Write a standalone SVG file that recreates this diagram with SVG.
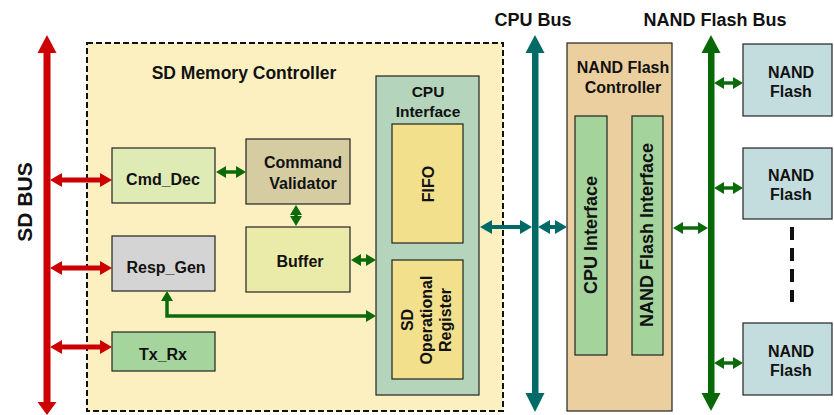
<svg xmlns="http://www.w3.org/2000/svg" width="834" height="415" viewBox="0 0 834 415">
<style>
text{font-family:"Liberation Sans",Arial,sans-serif;font-weight:bold;fill:#111;text-anchor:middle;dominant-baseline:central}
.box{stroke:#222;stroke-width:1.2}
.red{stroke:#CC0000;stroke-width:5;fill:none}
.grn{stroke:#0B6B0B;stroke-width:3.5;fill:none}
.teal{stroke:#006B66;stroke-width:4;fill:none}
.t16{font-size:16px}
</style>
<defs>
<marker id="hr" viewBox="0 0 12 14" refX="0" refY="7" markerWidth="12" markerHeight="14" markerUnits="userSpaceOnUse" orient="auto-start-reverse"><path d="M0,0 L12,7 L0,14 z" fill="#CC0000"/></marker>
<marker id="hg" viewBox="0 0 10 12" refX="0" refY="6" markerWidth="10" markerHeight="12" markerUnits="userSpaceOnUse" orient="auto-start-reverse"><path d="M0,0 L10,6 L0,12 z" fill="#0B6B0B"/></marker>
<marker id="ht" viewBox="0 0 12 14" refX="0" refY="7" markerWidth="12" markerHeight="14" markerUnits="userSpaceOnUse" orient="auto-start-reverse"><path d="M0,0 L12,7 L0,14 z" fill="#006B66"/></marker>
</defs>

<g id="sd-memory-controller">
<rect x="87" y="43" width="416" height="368" fill="#FDF0C0" stroke="#111" stroke-width="2" stroke-dasharray="6 3"/>
<text x="244" y="73" style="font-size:17.5px">SD Memory Controller</text>
</g>

<g id="cmd-dec"><rect class="box" x="112" y="148" width="103" height="55" fill="#DEEBB5"/><text class="t16" x="163" y="179">Cmd_Dec</text></g>
<g id="command-validator"><rect class="box" x="246" y="139" width="104" height="65" fill="#D5CCA2"/><text class="t16" x="303" y="162">Command</text><text class="t16" x="303" y="183">Validator</text></g>
<g id="buffer"><rect class="box" x="246" y="227" width="104" height="65" fill="#EBEBA9"/><text class="t16" x="300" y="261">Buffer</text></g>
<g id="resp-gen"><rect class="box" x="112" y="236" width="103" height="55" fill="#D4D4D4"/><text class="t16" x="166" y="267">Resp_Gen</text></g>
<g id="tx-rx"><rect class="box" x="112" y="332" width="103" height="39" fill="#A5D49C"/><text class="t16" x="163" y="354">Tx_Rx</text></g>

<g id="cpu-interface">
<rect class="box" x="376" y="76" width="103" height="319" fill="#B4D4BC"/>
<text class="t16" x="428" y="91" style="font-size:15.5px">CPU</text>
<text class="t16" x="428" y="111" style="font-size:15.5px">Interface</text>
</g>
<g id="fifo"><rect class="box" x="392" y="124" width="71" height="119" fill="#F2E08C"/><text class="t16" transform="translate(428,184) rotate(-90)" x="0" y="0">FIFO</text></g>
<g id="sd-operational-register"><rect class="box" x="392" y="260" width="71" height="119" fill="#F2E08C"/>
<g transform="translate(426,320) rotate(-90)"><text class="t16" x="0" y="-19">SD</text><text class="t16" x="0" y="0">Operational</text><text class="t16" x="0" y="19">Register</text></g>
</g>

<g id="nand-flash-controller">
<rect class="box" x="567" y="43" width="105" height="368" fill="#EBCF9E"/>
<text class="t16" x="623" y="67">NAND Flash</text>
<text class="t16" x="623" y="87">Controller</text>
</g>
<g id="nfc-cpu-interface"><rect class="box" x="575" y="116" width="32" height="239" fill="#A4D49C"/><text transform="translate(591,235) rotate(-90)" style="font-size:18px">CPU Interface</text></g>
<g id="nfc-nand-flash-interface"><rect class="box" x="632" y="116" width="31" height="239" fill="#A4D49C"/><text transform="translate(647,235) rotate(-90)" style="font-size:18px">NAND Flash Interface</text></g>

<g id="nand-flash-1"><rect class="box" x="743" y="44" width="89" height="72" fill="#C3DDDE"/><text class="t16" x="791" y="72">NAND</text><text class="t16" x="791" y="91">Flash</text></g>
<g id="nand-flash-2"><rect class="box" x="743" y="148" width="89" height="71" fill="#C3DDDE"/><text class="t16" x="791" y="175">NAND</text><text class="t16" x="791" y="194">Flash</text></g>
<g id="nand-flash-3"><rect class="box" x="743" y="323" width="89" height="72" fill="#C3DDDE"/><text class="t16" x="791" y="351">NAND</text><text class="t16" x="791" y="370">Flash</text></g>
<line x1="792" y1="227" x2="792" y2="302" stroke="#111" stroke-width="4" stroke-dasharray="13 8"/>

<g id="labels">
<text transform="translate(24,202) rotate(-90)" style="font-size:21px">SD BUS</text>
<text x="533" y="20" style="font-size:18px">CPU Bus</text>
<text x="715" y="20" style="font-size:18px">NAND Flash Bus</text>
</g>

<g id="connectors">
<!-- SD bus -->
<rect x="43.5" y="52" width="7" height="351" fill="#CC0000"/>
<polygon points="37.5,53 47,35 56.5,53" fill="#CC0000"/>
<polygon points="37.5,402 47,415 56.5,402" fill="#CC0000"/>
<!-- CPU bus -->
<rect x="532" y="52" width="6.5" height="342" fill="#006B66"/>
<polygon points="525.5,53 535,35 544.5,53" fill="#006B66"/>
<polygon points="525.5,393 535,412 544.5,393" fill="#006B66"/>
<!-- NAND flash bus -->
<rect x="708" y="52" width="6.5" height="342" fill="#066806"/>
<polygon points="701.5,53 711,35 720.5,53" fill="#066806"/>
<polygon points="701.5,393 711,411 720.5,393" fill="#066806"/>

<path class="red" d="M62,180 L100,180" marker-start="url(#hr)" marker-end="url(#hr)"/>
<path class="red" d="M62,268 L100,268" marker-start="url(#hr)" marker-end="url(#hr)"/>
<path class="red" d="M62,347 L100,347" marker-start="url(#hr)" marker-end="url(#hr)"/>

<path class="grn" d="M226,172 L236,172" marker-start="url(#hg)" marker-end="url(#hg)"/>
<path class="grn" d="M296,215 L296,216" marker-start="url(#hg)" marker-end="url(#hg)"/>
<path class="grn" d="M361,260 L366,260" marker-start="url(#hg)" marker-end="url(#hg)"/>
<path class="grn" d="M366,316 L167,316 L167,301" marker-start="url(#hg)" marker-end="url(#hg)"/>

<path class="teal" d="M492,227 L520,227" marker-start="url(#ht)" marker-end="url(#ht)"/>
<path class="teal" d="M550,227 L555,227" marker-start="url(#ht)" marker-end="url(#ht)"/>

<path class="grn" d="M683,228 L698,228" marker-start="url(#hg)" marker-end="url(#hg)"/>
<path class="grn" d="M724,83 L733,83" marker-start="url(#hg)" marker-end="url(#hg)"/>
<path class="grn" d="M724,188 L733,188" marker-start="url(#hg)" marker-end="url(#hg)"/>
<path class="grn" d="M724,363 L733,363" marker-start="url(#hg)" marker-end="url(#hg)"/>
</g>
</svg>
